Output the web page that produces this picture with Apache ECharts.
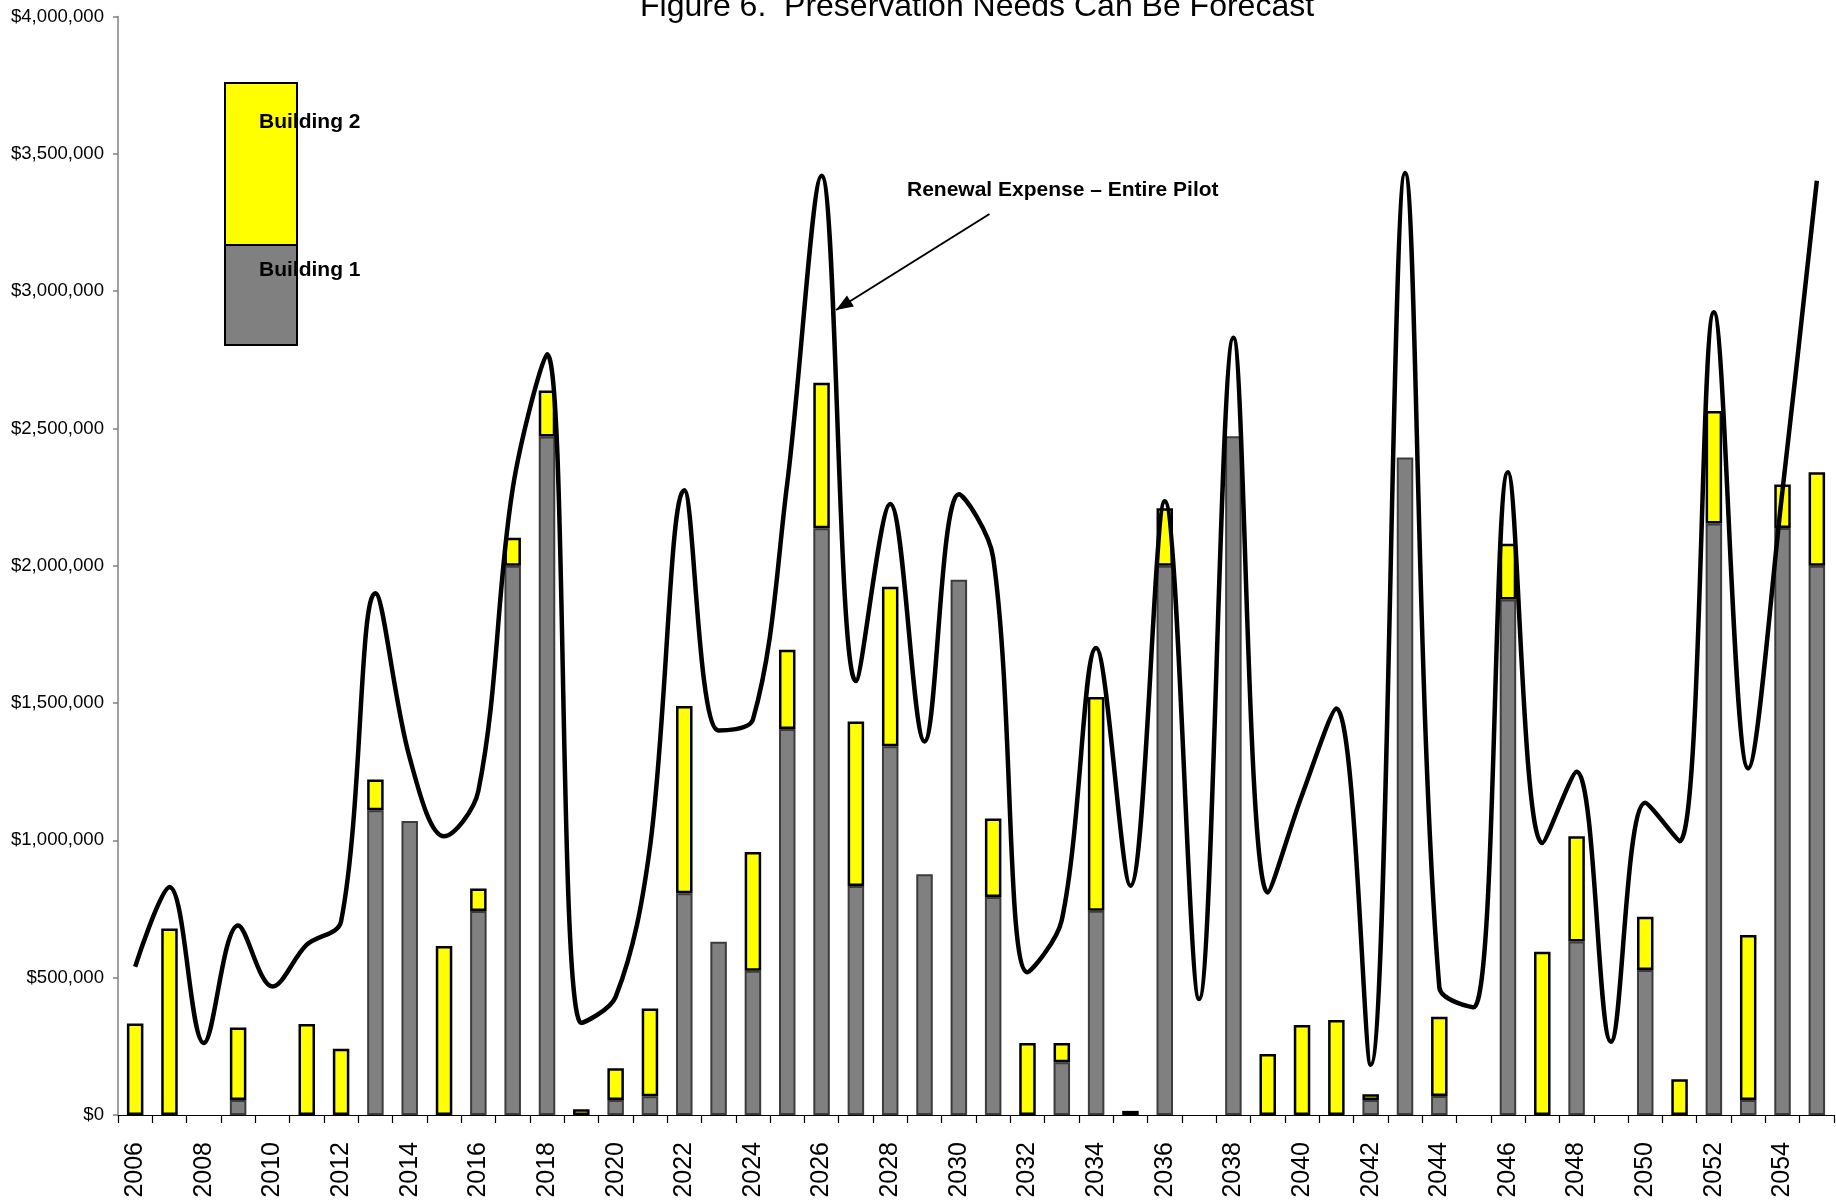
<!DOCTYPE html>
<html>
<head>
<meta charset="utf-8">
<title>Preservation Needs Can Be Forecast</title>
<script src="https://cdn.jsdelivr.net/npm/echarts@6/dist/echarts.min.js"></script>
<style>
  html, body { margin: 0; padding: 0; background: #fff; }
  #chart { width: 1836px; height: 1201px; }
</style>
</head>
<body>
<div id="chart"></div>
<script>
// Forecast years
const years = [];
for (let y = 2006; y <= 2055; y++) years.push(String(y));

// Annual renewal cost, Building 1 (dollars)
const building1 = [
  0, 0, 0, 55000, 0, 0, 0, 1110000, 1070000, 0,
  743000, 2000000, 2470000, 0, 55000, 68000, 807000, 631000, 525000, 1405000,
  2136000, 834000, 1343000, 877000, 1949000, 794000, 0, 192000, 744000, 0,
  2000000, 0, 2471000, 0, 0, 0, 55000, 2394000, 69000, 0,
  1877000, 0, 632000, 0, 528000, 0, 2154000, 55000, 2137000, 2000000
];

// Annual renewal cost, Building 2 (dollars)
const building2 = [
  333000, 679000, 0, 264000, 0, 331000, 241000, 112000, 0, 615000,
  82000, 102000, 168000, 21000, 115000, 320000, 682000, 0, 433000, 289000,
  530000, 599000, 580000, 0, 0, 286000, 262000, 70000, 778000, 15000,
  209000, 0, 0, 222000, 328000, 346000, 21000, 0, 289000, 0,
  203000, 594000, 383000, 0, 194000, 130000, 409000, 600000, 159000, 340000
];

// Renewal expense for the entire pilot (dollars)
const pilotTotal = [
  540000, 830000, 262000, 690000, 468000, 620000, 705000, 1900000, 1300000, 1015000,
  1180000, 2280000, 2770000, 335000, 430000, 975000, 2275000, 1400000, 1440000, 2300000,
  3420000, 1580000, 2225000, 1360000, 2260000, 2030000, 520000, 710000, 1700000, 835000,
  2235000, 422000, 2830000, 810000, 1165000, 1480000, 183000, 3430000, 465000, 392000,
  2340000, 990000, 1250000, 267000, 1137000, 997000, 2923000, 1262000, 2275000, 3402000
];

const titleText = 'Figure 6.  Preservation Needs Can Be Forecast';
const lineLabel = 'Renewal Expense \u2013 Entire Pilot';
const legendNames = ['Building 1', 'Building 2'];

const FONT = '"Liberation Sans", Arial, Helvetica, sans-serif';

function money(v) {
  return '$' + Math.round(v).toLocaleString('en-US');
}
// empty slots are left out instead of drawn as flat outlines
const asBars = arr => arr.map(v => (v ? v : null));

// arrow from the line caption down to the curve
const arrowFrom = [989.5, 214];
const arrowTo = [836, 310];
function arrowHead(from, to, len, half) {
  const dx = to[0] - from[0], dy = to[1] - from[1];
  const d = Math.hypot(dx, dy);
  const ux = dx / d, uy = dy / d;
  const bx = to[0] - ux * len, by = to[1] - uy * len;
  return [to, [bx - uy * half, by + ux * half], [bx + uy * half, by - ux * half]];
}

const chart = echarts.init(document.getElementById('chart'), null, { renderer: 'canvas' });

chart.setOption({
  backgroundColor: '#ffffff',
  animation: false,
  textStyle: { fontFamily: FONT },
  grid: { left: 118, right: 2, top: 16.4, bottom: 86, containLabel: false },
  xAxis: {
    type: 'category',
    data: years,
    boundaryGap: true,
    axisLine: { show: true, lineStyle: { color: '#000', width: 1.2 } },
    axisTick: { show: true, interval: 0, length: 8, lineStyle: { color: '#000', width: 1.2 } },
    axisLabel: {
      interval: 1,
      rotate: 90,
      margin: 27,
      fontSize: 25,
      color: '#000',
      fontFamily: FONT
    },
    splitLine: { show: false }
  },
  yAxis: {
    type: 'value',
    min: 0,
    max: 4000000,
    interval: 500000,
    axisLine: { show: true, lineStyle: { color: '#808080', width: 1.5 } },
    axisTick: { show: true, length: 5, lineStyle: { color: '#808080', width: 1.5 } },
    axisLabel: {
      margin: 14,
      fontSize: 18.6,
      color: '#000',
      fontFamily: FONT,
      formatter: money
    },
    splitLine: { show: false }
  },
  series: [
    {
      name: legendNames[0],
      type: 'bar',
      stack: 'cost',
      data: asBars(building1),
      barWidth: 16.5,
      itemStyle: { color: '#808080', borderColor: '#3c3c3c', borderWidth: 2 },
      z: 2
    },
    {
      name: legendNames[1],
      type: 'bar',
      stack: 'cost',
      data: asBars(building2),
      barWidth: 16.5,
      itemStyle: { color: '#ffff00', borderColor: '#000', borderWidth: 2.5 },
      z: 3
    },
    {
      name: lineLabel,
      type: 'line',
      data: pilotTotal,
      smooth: 0.35,
      showSymbol: false,
      symbol: 'none',
      lineStyle: { color: '#000', width: 4.5 },
      z: 5
    }
  ],
  graphic: [
    {
      type: 'text',
      left: 640,
      top: -9,
      style: { text: titleText, font: '32px ' + FONT, fill: '#000' }
    },
    // stacked legend swatch
    {
      type: 'rect',
      shape: { x: 225, y: 83, width: 72, height: 162 },
      style: { fill: '#ffff00', stroke: '#000', lineWidth: 2 },
      z: 10
    },
    {
      type: 'rect',
      shape: { x: 225, y: 245, width: 72, height: 100 },
      style: { fill: '#808080', stroke: '#000', lineWidth: 2 },
      z: 10
    },
    {
      type: 'text',
      x: 259, y: 122,
      style: { text: legendNames[1], font: 'bold 21px ' + FONT, fill: '#000', verticalAlign: 'middle' },
      z: 11
    },
    {
      type: 'text',
      x: 259, y: 270,
      style: { text: legendNames[0], font: 'bold 21px ' + FONT, fill: '#000', verticalAlign: 'middle' },
      z: 11
    },
    // line caption with arrow
    {
      type: 'text',
      x: 907, y: 190,
      style: { text: lineLabel, font: 'bold 21px ' + FONT, fill: '#000', verticalAlign: 'middle' },
      z: 11
    },
    {
      type: 'line',
      shape: { x1: arrowFrom[0], y1: arrowFrom[1], x2: arrowTo[0], y2: arrowTo[1] },
      style: { stroke: '#000', lineWidth: 2 },
      z: 11
    },
    {
      type: 'polygon',
      shape: { points: arrowHead(arrowFrom, arrowTo, 17, 6.5) },
      style: { fill: '#000' },
      z: 11
    }
  ]
});
</script>
</body>
</html>
